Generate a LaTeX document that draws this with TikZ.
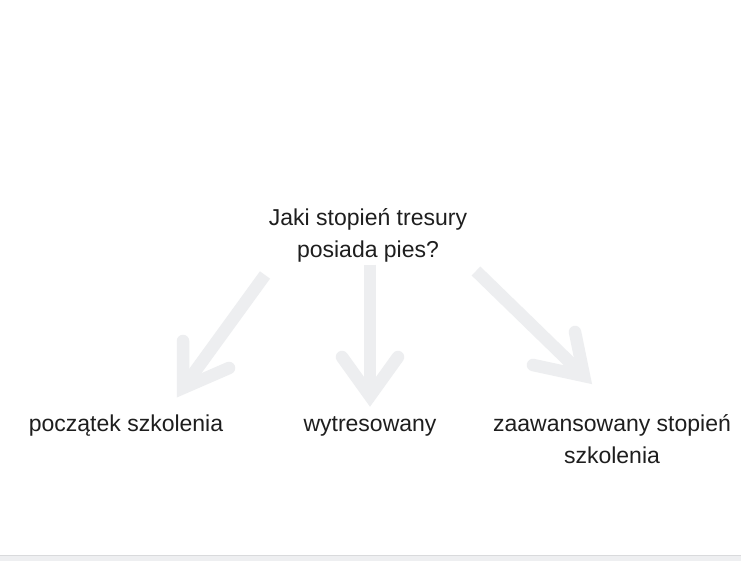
\documentclass[tikz,border=0pt]{standalone}
\usepackage{fontspec}
\setmainfont{Liberation Sans}
\definecolor{arrowgray}{RGB}{237,238,240}
\definecolor{textdark}{RGB}{30,30,30}
\definecolor{barline}{RGB}{217,218,220}
\definecolor{barfill}{RGB}{238,239,241}
\tikzset{
  label/.style={font=\fontsize{23}{32}\selectfont, text=textdark, align=center, inner sep=0pt, anchor=base},
  shaft/.style={draw=arrowgray, line width=12.5pt, line cap=butt},
  barb/.style={draw=arrowgray, line width=12.5pt, line cap=round, line join=miter, miter limit=10},
}
\begin{document}
\begin{tikzpicture}[x=1pt,y=-1pt]
\useasboundingbox (0,0) rectangle (741,561);
\fill[white] (0,0) rectangle (741,561);
% bottom bar
\fill[barfill] (0,555.5) rectangle (741,561);
\draw[barline, line width=1pt] (0,555.5) -- (741,555.5);

% texts (base anchor = baseline of the last line)
\node[label] (q) at (368,258) {Jaki stopień tresury\\ posiada pies?};
\node[label] (a) at (126,431) {początek szkolenia};
\node[label] (b) at (370,431) {wytresowany};
\node[label] (c) at (612,463) {zaawansowany stopień\\szkolenia};

% arrow coordinates
\coordinate (s1) at (265,275);
\coordinate (t1) at (183,388);
\coordinate (l1) at (183,341);
\coordinate (r1) at (229,368);

\coordinate (s2) at (370,265);
\coordinate (t2) at (370,396);
\coordinate (l2) at (342,357);
\coordinate (r2) at (398,357);

\coordinate (s3) at (476,271);
\coordinate (t3) at (584,376);
\coordinate (l3) at (575,332);
\coordinate (r3) at (533,365);

\draw[shaft] (s1) -- (t1);
\draw[barb] (l1) -- (t1) -- (r1);
\draw[shaft] (s2) -- (t2);
\draw[barb] (l2) -- (t2) -- (r2);
\draw[shaft] (s3) -- (t3);
\draw[barb] (l3) -- (t3) -- (r3);
\end{tikzpicture}
\end{document}
